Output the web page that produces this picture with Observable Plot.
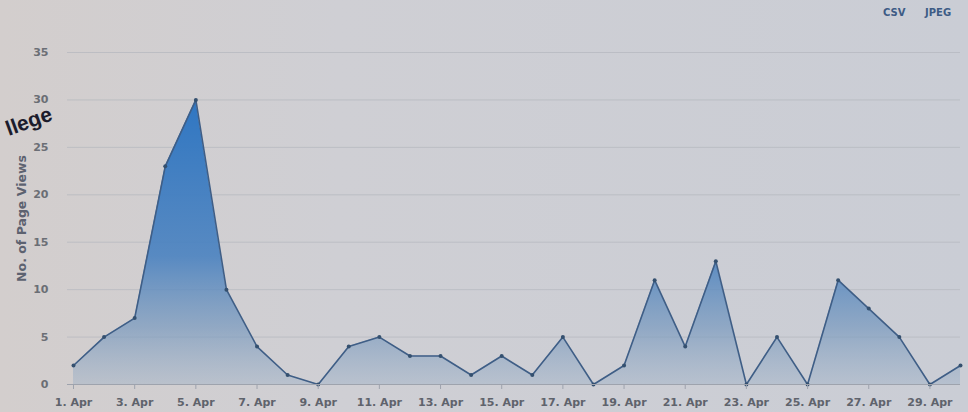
<!DOCTYPE html>
<html>
<head>
<meta charset="utf-8">
<script src="https://cdn.jsdelivr.net/npm/d3@7"></script>
<script src="https://cdn.jsdelivr.net/npm/@observablehq/plot@0.6"></script>
<style>
  html, body { margin: 0; padding: 0; }
  body {
    width: 968px; height: 412px; overflow: hidden; position: relative;
    background: linear-gradient(90deg, #d3cecd 0%, #cfcfd4 35%, #cacdd5 100%);
    font-family: "DejaVu Sans", Verdana, sans-serif;
  }
  #chart svg { display: block; background: transparent; }
  .export { position: absolute; top: 7px; font: bold 10px "DejaVu Sans", sans-serif; color: #3d5b85; }
  .stamp { position: absolute; left: 9px; top: 118px; font: bold 21px/1 "Liberation Sans", Arial, sans-serif;
           color: #1c1c2c; transform: rotate(-20deg); transform-origin: 0 19px; white-space: nowrap; }
</style>
</head>
<body>
<div id="chart"></div>
<div class="export" style="left:883px">CSV</div>
<div class="export" style="left:925px">JPEG</div>
<div class="stamp">llege</div>
<script>
// Data (April, page views per day)
const days = ["2014-04-01","2014-04-02","2014-04-03","2014-04-04","2014-04-05","2014-04-06","2014-04-07","2014-04-08","2014-04-09","2014-04-10",
              "2014-04-11","2014-04-12","2014-04-13","2014-04-14","2014-04-15","2014-04-16","2014-04-17","2014-04-18","2014-04-19","2014-04-20",
              "2014-04-21","2014-04-22","2014-04-23","2014-04-24","2014-04-25","2014-04-26","2014-04-27","2014-04-28","2014-04-29","2014-04-30"];
const views = [2,5,7,23,30,10,4,1,0,4,5,3,3,1,3,1,5,0,2,11,4,13,0,5,0,11,8,5,0,2];
const yTicks = [0,5,10,15,20,25,30,35];
const yTitle = "No. of Page Views";

const data = days.map((d, i) => ({date: new Date(d + "T00:00:00Z"), views: views[i]}));

const gradient = () => {
  const defs = d3.create("svg:defs");
  const g = defs.append("linearGradient").attr("id", "areaGrad")
    .attr("x1", 0).attr("y1", 0).attr("x2", 0).attr("y2", 1);
  g.append("stop").attr("offset", "0%").attr("stop-color", "#2f76c2").attr("stop-opacity", 1);
  g.append("stop").attr("offset", "55%").attr("stop-color", "#4a82c0").attr("stop-opacity", 0.9);
  g.append("stop").attr("offset", "80%").attr("stop-color", "#7396bd").attr("stop-opacity", 0.68);
  g.append("stop").attr("offset", "100%").attr("stop-color", "#9db0c6").attr("stop-opacity", 0.45);
  return defs.node();
};

const chart = Plot.plot({
  width: 968,
  height: 412,
  marginLeft: 67,
  marginRight: 8,
  marginTop: 52,
  marginBottom: 28,
  style: {fontFamily: "DejaVu Sans, Verdana, sans-serif", fontSize: "11px", color: "#6b6e75", background: "transparent"},
  x: {type: "utc", domain: [data[0].date, data[data.length - 1].date], range: [73, 960]},
  y: {domain: [0, 35]},
  marks: [
    gradient,
    Plot.ruleY(yTicks, {stroke: "#b3b6be", strokeOpacity: 0.7, strokeWidth: 1}),
    Plot.areaY(data, {x: "date", y: "views", fill: "url(#areaGrad)"}),
    Plot.lineY(data, {x: "date", y: "views", stroke: "#3f5e86", strokeWidth: 1.6}),
    Plot.dot(data, {x: "date", y: "views", r: 2, fill: "#34506f"}),
    Plot.ruleY([0], {stroke: "#9ea3ad", strokeWidth: 1}),
    Plot.axisY({ticks: yTicks, tickSize: 0, tickPadding: 19, label: null, fill: "#6b6e75", fontWeight: "bold"}),
    Plot.axisY({ticks: [], label: yTitle, labelAnchor: "center", labelOffset: 50, labelArrow: "none",
                fill: "#5d6270", fontWeight: "bold", fontSize: 12.5}),
    Plot.axisX({ticks: d3.utcDay.every(2), tickFormat: d3.utcFormat("%-d. %b"), tickSize: 5, tickPadding: 9,
                label: null, stroke: "#9ea3ad", fill: "#5f636c", fontWeight: "bold"})
  ]
});
document.getElementById("chart").append(chart);
</script>
</body>
</html>
